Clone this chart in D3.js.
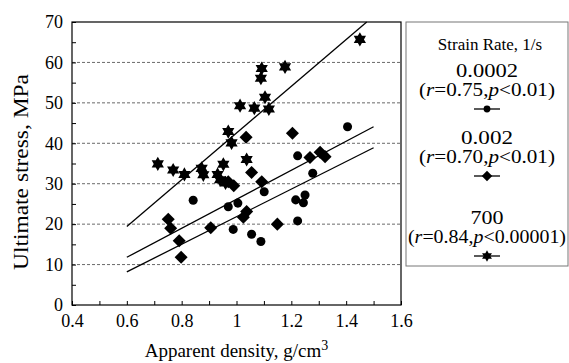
<!DOCTYPE html>
<html>
<head>
<meta charset="utf-8">
<script src="https://cdn.jsdelivr.net/npm/d3@7"></script>
<style>
  html, body { margin: 0; padding: 0; background: #fff; overflow: hidden; }
  svg { display: block; }
  text { font-family: "Liberation Serif", "Times New Roman", serif; fill: #000; }
</style>
</head>
<body>
<svg id="chart" width="569" height="363"></svg>
<script>
// values
const xTicks = [0.4, 0.6, 0.8, 1, 1.2, 1.4, 1.6];
const xMinor = [0.5, 0.7, 0.9, 1.1, 1.3, 1.5];
const yTicks = [0, 10, 20, 30, 40, 50, 60, 70];
const yMinor = [5, 15, 25, 35, 45, 55, 65];
const gridValues = [10, 20, 30, 40, 50, 60];

const rateLabels = ["0.0002", "0.002", "700"];
const rValues = ["0.75", "0.70", "0.84"];
const pValues = ["0.01", "0.01", "0.00001"];

// strain rate 0.0002 1/s (circles)
const rate0002 = [
  [0.842, 25.9], [0.970, 24.3], [1.005, 25.2], [0.988, 18.7], [1.055, 17.5],
  [1.089, 15.7], [1.101, 28.0], [1.216, 26.0], [1.250, 27.2], [1.244, 25.3],
  [1.223, 20.8], [1.223, 36.9], [1.278, 32.6], [1.405, 44.1]
];
// strain rate 0.002 1/s (diamonds)
const rate002 = [
  [0.751, 21.2], [0.760, 19.0], [0.791, 15.9], [0.798, 11.8], [0.906, 19.1],
  [0.970, 30.5], [0.990, 29.5], [1.035, 41.5], [1.055, 32.8], [1.092, 30.5],
  [1.037, 23.1], [1.025, 21.7], [1.149, 20.0], [1.204, 42.5], [1.268, 36.5],
  [1.305, 37.8], [1.323, 36.7]
];
// strain rate 700 1/s (stars)
const rate700 = [
  [0.713, 34.9], [0.769, 33.4], [0.810, 32.3], [0.873, 33.8], [0.879, 32.2],
  [0.931, 32.3], [0.952, 34.8], [0.940, 31.0], [0.960, 30.2], [0.970, 42.9],
  [0.982, 40.1], [1.013, 49.3], [1.037, 36.0], [1.065, 48.7], [1.089, 56.1],
  [1.092, 58.5], [1.104, 51.4], [1.118, 48.5], [1.177, 58.9], [1.450, 65.7]
];

// regression lines, end points
const fit0002 = [[0.6, 8.2], [1.5, 38.9]];
const fit002 = [[0.6, 11.8], [1.5, 44.1]];
const fit700 = [[0.6, 19.4], [1.475, 70]];

const svg = d3.select("#chart");
const margin = {top: 22, right: 168, bottom: 58, left: 72};
const width = 569, height = 363;
const innerWidth = width - margin.left - margin.right;
const innerHeight = height - margin.top - margin.bottom;

const xScale = d3.scaleLinear().domain([0.4, 1.6]).range([0, innerWidth]);
const yScale = d3.scaleLinear().domain([0, 70]).range([innerHeight, 0]);

const g = svg.append("g").attr("transform", `translate(${margin.left},${margin.top})`);

// dashed grid
g.selectAll(".grid")
  .data(gridValues)
  .enter().append("line")
  .attr("x1", 0).attr("x2", innerWidth)
  .attr("y1", d => yScale(d)).attr("y2", d => yScale(d))
  .attr("stroke", "#444").attr("stroke-width", 0.8)
  .attr("stroke-dasharray", "3,2");

// frame
g.append("rect")
  .attr("width", innerWidth).attr("height", innerHeight)
  .attr("fill", "none").attr("stroke", "#000").attr("stroke-width", 1.2);

function styleTicks(sel) {
  sel.attr("font-family", null);
  sel.select(".domain").remove();
  sel.selectAll(".tick line").attr("stroke", "#000");
  sel.selectAll(".tick text").attr("font-size", 18).attr("fill", "#000");
}
function minorTicks(sel) {
  sel.select(".domain").remove();
  sel.selectAll(".tick text").remove();
  sel.selectAll(".tick line").attr("stroke", "#000");
}

g.append("g")
  .call(d3.axisLeft(yScale).tickValues(yTicks).tickSizeInner(-4).tickSizeOuter(0).tickPadding(9))
  .call(styleTicks);
g.append("g")
  .call(d3.axisLeft(yScale).tickValues(yMinor).tickSizeInner(-4).tickSizeOuter(0))
  .call(minorTicks);

g.append("g")
  .attr("transform", `translate(0,${innerHeight})`)
  .call(d3.axisBottom(xScale).tickValues(xTicks).tickSizeInner(-4).tickSizeOuter(0).tickPadding(9).tickFormat(d => String(d)))
  .call(styleTicks);
g.append("g")
  .attr("transform", `translate(0,${innerHeight})`)
  .call(d3.axisBottom(xScale).tickValues(xMinor).tickSizeInner(-4).tickSizeOuter(0))
  .call(minorTicks);

// fit lines
const line = d3.line().x(d => xScale(d[0])).y(d => yScale(d[1]));
[fit0002, fit002, fit700].forEach(f => {
  g.append("path").datum(f)
    .attr("d", line)
    .attr("fill", "none").attr("stroke", "#000").attr("stroke-width", 1.3);
});

// six pointed star symbol
const hexagram = {
  draw(context, size) {
    const r = Math.sqrt(size) / 2;
    const ri = r / Math.sqrt(3);
    for (let i = 0; i < 12; i++) {
      const a = -Math.PI / 2 + i * Math.PI / 6;
      const rr = i % 2 === 0 ? r : ri;
      const px = rr * Math.cos(a), py = rr * Math.sin(a);
      if (i === 0) context.moveTo(px, py); else context.lineTo(px, py);
    }
    context.closePath();
  }
};
const diamond = {
  draw(context, size) {
    const r = Math.sqrt(size) / 2;
    context.moveTo(0, -r);
    context.lineTo(r, 0);
    context.lineTo(0, r);
    context.lineTo(-r, 0);
    context.closePath();
  }
};

const series = [
  {data: rate0002, type: d3.symbolCircle, size: 64, legendSize: 36},
  {data: rate002, type: diamond, size: 170, legendSize: 110},
  {data: rate700, type: hexagram, size: 200, legendSize: 130}
];

series.forEach(s => {
  g.append("g").selectAll("path")
    .data(s.data)
    .enter().append("path")
    .attr("transform", d => `translate(${xScale(d[0])},${yScale(d[1])})`)
    .attr("d", d3.symbol().type(s.type).size(s.size))
    .attr("fill", "#000");
});

// axis titles
svg.append("text")
  .attr("transform", "translate(28,172) rotate(-90)")
  .attr("text-anchor", "middle")
  .attr("font-size", 21)
  .attr("textLength", 196).attr("lengthAdjust", "spacingAndGlyphs")
  .text("Ultimate stress, MPa");

const xt = svg.append("text")
  .attr("x", margin.left + innerWidth / 2)
  .attr("y", 357)
  .attr("text-anchor", "middle")
  .attr("font-size", 19);
xt.append("tspan").text("Apparent density, g/cm");
xt.append("tspan").attr("dy", -7).attr("font-size", 14).text("3");

// legend
const legend = svg.append("g");
legend.append("rect")
  .attr("x", 406).attr("y", 22).attr("width", 162).attr("height", 244)
  .attr("fill", "none").attr("stroke", "#777").attr("stroke-width", 1);

const lx = 487;
legend.append("text")
  .attr("x", lx + 3).attr("y", 50)
  .attr("text-anchor", "middle").attr("font-size", 17)
  .text("Strain Rate, 1/s");

const rowTop = [77, 144, 224];
const rateWidths = [62, 52, 33];
const statWidths = [136, 136, 158];
series.forEach((s, i) => {
  const y0 = rowTop[i];
  legend.append("text")
    .attr("x", lx).attr("y", y0)
    .attr("text-anchor", "middle").attr("font-size", 18)
    .attr("textLength", rateWidths[i]).attr("lengthAdjust", "spacingAndGlyphs")
    .text(rateLabels[i]);
  const st = legend.append("text")
    .attr("x", lx).attr("y", y0 + 19)
    .attr("text-anchor", "middle").attr("font-size", 18)
    .attr("textLength", statWidths[i]).attr("lengthAdjust", "spacingAndGlyphs");
  st.append("tspan").text("(");
  st.append("tspan").attr("font-style", "italic").text("r");
  st.append("tspan").text("=" + rValues[i] + ",");
  st.append("tspan").attr("font-style", "italic").text("p");
  st.append("tspan").text("<" + pValues[i] + ")");
  const my = y0 + 32;
  legend.append("line")
    .attr("x1", lx - 13).attr("x2", lx + 13)
    .attr("y1", my).attr("y2", my)
    .attr("stroke", "#000").attr("stroke-width", 1.3);
  legend.append("path")
    .attr("transform", `translate(${lx},${my})`)
    .attr("d", d3.symbol().type(s.type).size(s.legendSize))
    .attr("fill", "#000");
});
</script>
</body>
</html>
